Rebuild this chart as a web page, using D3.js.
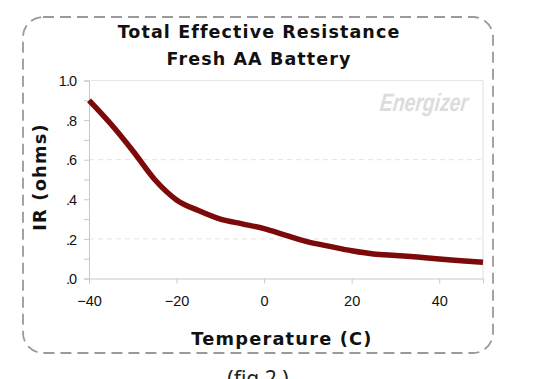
<!DOCTYPE html>
<html><head><meta charset="utf-8">
<script src="https://cdn.jsdelivr.net/npm/d3@7"></script>
<style>html,body{margin:0;padding:0;background:#fff;overflow:hidden}</style>
</head><body>
<svg id="c" width="540" height="379"></svg>
<script>
const temps = [-40,-35,-30,-25,-20,-15,-10,-5,0,5,10,15,20,25,30,35,40,45,50];
const resistance = [0.90,0.78,0.645,0.50,0.397,0.343,0.300,0.276,0.252,0.218,0.185,0.162,0.140,0.124,0.116,0.108,0.098,0.090,0.082];
const xTicks = [-40,-20,0,20,40];
const yTicks = [0,0.2,0.4,0.6,0.8,1.0];
const yMinorTicks = [0.1,0.3,0.5,0.7,0.9];
const yTickLabels = [".0",".2",".4",".6",".8","1.0"];
const titleLines = ["Total Effective Resistance","Fresh AA Battery"];

const svg = d3.select("#c");
const L=89, R=483, T=80.5, B=278.5;
const x = d3.scaleLinear().domain([-40,50]).range([L,R]);
const y = d3.scaleLinear().domain([0,1]).range([B,T]);

// dashed rounded frame
svg.append("rect").attr("x",23).attr("y",17).attr("width",470).attr("height",336)
  .attr("rx",20).attr("ry",20).attr("fill","none").attr("stroke","#9a9a9a")
  .attr("stroke-width",1.8).attr("stroke-dasharray","11,6");

// titles
svg.selectAll("text.title").data(titleLines).enter().append("text")
  .attr("x",259).attr("y",(d,i)=>38+i*27).attr("text-anchor","middle")
  .attr("font-family","DejaVu Sans").attr("font-weight","bold").attr("font-size",17.5)
  .attr("letter-spacing",1.1).attr("fill","#111").text(d=>d);

// gridlines
svg.append("g").selectAll("line").data([0.2,0.6]).enter().append("line")
  .attr("x1",L).attr("x2",R).attr("y1",d=>y(d)).attr("y2",d=>y(d))
  .attr("stroke","#e2e2e2").attr("stroke-dasharray","5,4");
svg.append("line").attr("x1",L).attr("x2",R).attr("y1",y(1)).attr("y2",y(1)).attr("stroke","#e6e6e6");
svg.append("line").attr("x1",R).attr("x2",R).attr("y1",y(1)).attr("y2",y(0)).attr("stroke","#e0e0e0");

// watermark
svg.append("text").attr("x",380).attr("y",111).attr("font-family","Liberation Sans Narrow, Liberation Sans")
  .attr("font-style","italic").attr("font-weight","bold").attr("font-size",25)
  .attr("textLength",88).attr("lengthAdjust","spacingAndGlyphs").attr("fill","#dcdcdc")
  .attr("transform","skewX(-6) translate(11,0)").text("Energizer");

// axes
const yAxis = d3.axisLeft(y).tickValues(yTicks.concat(yMinorTicks)).tickSize(5)
  .tickFormat(d=>{const i=yTicks.findIndex(v=>Math.abs(v-d)<1e-9);return i>=0?yTickLabels[i]:"";});
const gy = svg.append("g").attr("transform",`translate(${L},0)`).call(yAxis);
const xAxis = d3.axisBottom(x).tickValues(xTicks).tickSize(5).tickFormat(d3.format("d"));
const gx = svg.append("g").attr("transform",`translate(0,${B})`).call(xAxis);
[gx,gy].forEach(g=>{
  g.attr("font-size",null).attr("font-family",null);
  g.select(".domain").attr("stroke","#c8c8c8");
  g.selectAll(".tick line").attr("stroke","#c8c8c8");
  g.selectAll("text").style("font-family","Liberation Sans, Arial").style("font-size","14.5px").attr("fill","#111");
});
gy.selectAll("text").attr("x",-13).attr("dy","0.36em").attr("letter-spacing",-1);
gx.selectAll("text").attr("y",17);

// line
const line = d3.line().x((d,i)=>x(temps[i])).y(d=>y(d)).curve(d3.curveMonotoneX);
svg.append("path").datum(resistance).attr("d",line).attr("fill","none")
  .attr("stroke","#7d0a0a").attr("stroke-width",5.5).attr("stroke-linejoin","round");

// axis titles
svg.append("text").attr("x",282).attr("y",345).attr("text-anchor","middle")
  .attr("font-family","DejaVu Sans").attr("font-weight","bold").attr("font-size",17.8)
  .attr("letter-spacing",1.2).attr("fill","#111").text("Temperature (C)");
svg.append("text").attr("transform","translate(46,177) rotate(-90)").attr("text-anchor","middle")
  .attr("font-family","DejaVu Sans").attr("font-weight","bold").attr("font-size",17.8)
  .attr("letter-spacing",1.2).attr("fill","#111").text("IR (ohms)");

// caption (cut off at bottom edge, as in the reference)
svg.append("text").attr("x",258).attr("y",386).attr("text-anchor","middle")
  .attr("font-family","Noto Sans, DejaVu Sans").attr("font-size",21).attr("fill","#222").text("(fig 2.)");
</script>
</body></html>
